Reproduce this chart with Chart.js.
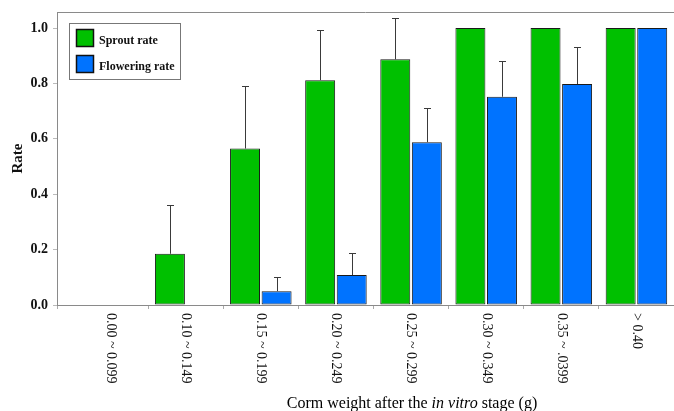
<!DOCTYPE html>
<html>
<head>
<meta charset="utf-8">
<script src="https://cdn.jsdelivr.net/npm/chart.js@4/dist/chart.umd.min.js"></script>
<style>
  html, body { margin: 0; padding: 0; background: #fff; }
  #wrap { width: 674px; height: 411px; position: relative; }
</style>
</head>
<body>
<div id="wrap"><canvas id="rateChart"></canvas></div>
<script>
// data
const categories = ['0.00 ~ 0.099', '0.10 ~ 0.149', '0.15 ~ 0.199', '0.20 ~ 0.249',
                    '0.25 ~ 0.299', '0.30 ~ 0.349', '0.35 ~ .0399', '> 0.40'];
const sproutRate = [0, 0.185, 0.565, 0.812, 0.887, 1.0, 1.0, 1.0];
const sproutSD = [0, 0.175, 0.225, 0.18, 0.148, 0, 0, 0];
const floweringRate = [0, 0, 0.05, 0.108, 0.588, 0.752, 0.798, 1.0];
const floweringSD = [0, 0, 0.05, 0.08, 0.124, 0.13, 0.134, 0];
const yTicks = [0, 0.2, 0.4, 0.6, 0.8, 1.0];

const serif = '"Liberation Serif", "Times New Roman", serif';
const axisGray = '#8a8a8a';

function toPoints(values) {
    return values.map((v, i) => ({ x: i, y: v }));
}

// top frame line + upward error bars + rotated category labels + x title
const extrasPlugin = {
    id: 'extras',
    afterDatasetsDraw(chart) {
        const ctx = chart.ctx;
        const y = chart.scales.y;
        const sds = [sproutSD, floweringSD];
        ctx.save();
        ctx.strokeStyle = '#3a3a3a';
        ctx.lineWidth = 1;
        chart.data.datasets.forEach((ds, di) => {
            const meta = chart.getDatasetMeta(di);
            meta.data.forEach((bar, j) => {
                const sd = sds[di][j];
                if (!sd) return;
                const val = ds.data[j].y;
                const x = Math.round(bar.x) + 0.5;
                const yTop = Math.round(y.getPixelForValue(val + sd)) + 0.5;
                const yBar = y.getPixelForValue(val);
                ctx.beginPath();
                ctx.moveTo(x, yBar);
                ctx.lineTo(x, yTop);
                ctx.moveTo(x - 3.5, yTop);
                ctx.lineTo(x + 3.5, yTop);
                ctx.stroke();
            });
        });
        ctx.restore();
    },
    afterDraw(chart) {
        const ctx = chart.ctx;
        const area = chart.chartArea;
        const x = chart.scales.x;
        ctx.save();
        // top frame
        ctx.strokeStyle = axisGray;
        ctx.lineWidth = 1;
        ctx.beginPath();
        ctx.moveTo(area.left, area.top + 0.5);
        ctx.lineTo(area.right, area.top + 0.5);
        ctx.stroke();

        // category labels, rotated clockwise
        ctx.fillStyle = '#111';
        ctx.font = '14px ' + serif;
        ctx.textAlign = 'left';
        ctx.textBaseline = 'middle';
        categories.forEach((lab, i) => {
            ctx.save();
            ctx.translate(x.getPixelForValue(i), area.bottom + 8);
            ctx.rotate(Math.PI / 2);
            ctx.fillText(lab, 0, 0);
            ctx.restore();
        });

        // axis title with italic part
        const parts = [
            { t: 'Corm weight after the ', f: '16px ' + serif },
            { t: 'in vitro', f: 'italic 16px ' + serif },
            { t: ' stage (g)', f: '16px ' + serif }
        ];
        let total = 0;
        parts.forEach(p => { ctx.font = p.f; p.w = ctx.measureText(p.t).width; total += p.w; });
        let cx = 412 - total / 2;
        ctx.textBaseline = 'alphabetic';
        ctx.fillStyle = '#000';
        parts.forEach(p => { ctx.font = p.f; ctx.fillText(p.t, cx, 408); cx += p.w; });

        // legend box
        const lx = 69, ly = 23;
        ctx.strokeStyle = '#777';
        ctx.lineWidth = 1;
        ctx.strokeRect(lx + 0.5, ly + 0.5, 111, 56);
        chart.data.datasets.forEach((ds, i) => {
            const sy = ly + 6 + i * 26;
            ctx.fillStyle = ds.backgroundColor;
            ctx.fillRect(lx + 7, sy, 18, 18);
            ctx.strokeStyle = '#111';
            ctx.lineWidth = 1.5;
            ctx.strokeRect(lx + 7.5, sy + 0.5, 17, 17);
            ctx.fillStyle = '#111';
            ctx.font = 'bold 12px ' + serif;
            ctx.textBaseline = 'middle';
            ctx.fillText(ds.label, lx + 30, sy + 12);
        });
        ctx.restore();
    }
};

function initChart() {
    const ctx = document.getElementById('rateChart').getContext('2d');
    new Chart(ctx, {
        type: 'bar',
        data: {
            datasets: [{
                label: 'Sprout rate',
                data: toPoints(sproutRate),
                backgroundColor: '#00c000',
                borderColor: '#1a1a1a',
                borderWidth: 1,
                borderSkipped: false
            }, {
                label: 'Flowering rate',
                data: toPoints(floweringRate),
                backgroundColor: '#0073ff',
                borderColor: '#1a1a1a',
                borderWidth: 1,
                borderSkipped: false
            }]
        },
        options: {
            responsive: true,
            maintainAspectRatio: false,
            animation: false,
            categoryPercentage: 0.84,
            barPercentage: 0.95,
            layout: { padding: { top: 12, right: 0, bottom: 0, left: 0 } },
            plugins: {
                legend: { display: false },
                tooltip: { enabled: false }
            },
            scales: {
                x: {
                    type: 'linear',
                    offset: false,
                    min: -0.713,
                    max: 7.5,
                    afterBuildTicks: s => {
                        s.ticks = [-0.713].concat(categories.map((c, i) => i + 0.5)).map(v => ({ value: v }));
                    },
                    afterFit: s => { s.height = 106; s.paddingLeft = 0; s.paddingRight = 0; },
                    ticks: { display: false },
                    grid: { offset: false, drawOnChartArea: false, drawTicks: true, tickLength: 4, color: '#aaa' },
                    border: { display: true, color: axisGray, width: 1 }
                },
                y: {
                    min: 0,
                    max: 1.058,
                    afterBuildTicks: s => { s.ticks = yTicks.map(v => ({ value: v })); },
                    afterFit: s => { s.width = 57; s.paddingTop = 0; s.paddingBottom = 0; },
                    ticks: {
                        padding: 5,
                        color: '#111',
                        font: { family: serif, size: 14, weight: 'bold' },
                        callback: v => v.toFixed(1)
                    },
                    grid: { drawOnChartArea: false, drawTicks: true, tickLength: 4, color: '#bbb' },
                    border: { display: true, color: axisGray, width: 1 },
                    title: {
                        display: true,
                        text: 'Rate',
                        color: '#111',
                        font: { family: serif, size: 15, weight: 'bold' },
                        padding: { top: 9, bottom: 0 }
                    }
                }
            }
        },
        plugins: [extrasPlugin]
    });
}

document.addEventListener('DOMContentLoaded', initChart);
</script>
</body>
</html>
